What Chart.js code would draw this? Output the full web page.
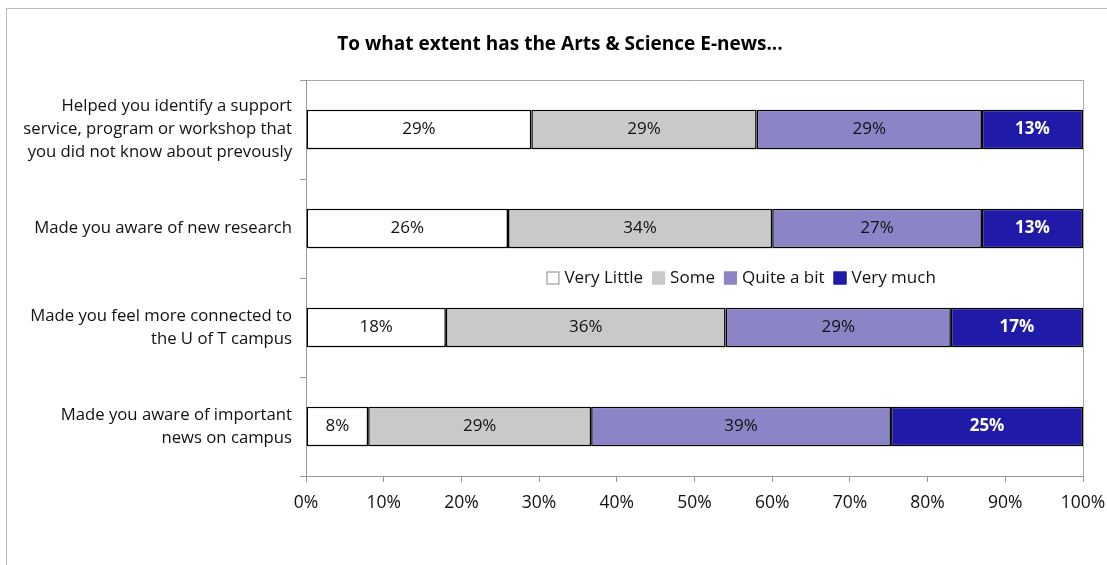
<!DOCTYPE html>
<html>
<head>
<meta charset="utf-8">
<script src="https://cdn.jsdelivr.net/npm/chart.js@4"></script>
<style>
  html, body { margin: 0; padding: 0; background: #fff; }
  #wrap { width: 1107px; height: 565px; }
</style>
</head>
<body>
<div id="wrap"><canvas id="ChartCanvas"></canvas></div>
<script>
// Questions (y categories), one array per answer level
const questions = [
    ['Helped you identify a support', 'service, program or workshop that', 'you did not know about prevously'],
    'Made you aware of new research',
    ['Made you feel more connected to', 'the U of T campus'],
    ['Made you aware of important', 'news on campus']
];
const seriesNames = ['Very Little', 'Some', 'Quite a bit', 'Very much'];
const veryLittle = [29, 26, 18, 8];
const some       = [29, 34, 36, 28.7];
const quiteABit  = [29, 27, 29, 38.6];
const veryMuch   = [13, 13, 17, 24.7];
const xTicks = [0, 10, 20, 30, 40, 50, 60, 70, 80, 90, 100];
const titleText = 'To what extent has the Arts & Science E-news...';

const colors = ['#ffffff', '#c9c9c9', '#8b85c7', '#1f1aa8'];
const labelColors = ['#111', '#111', '#111', '#fff'];
const FONT = '"Open Sans", Lato, sans-serif';

// percent labels in the middle of each segment
const barLabels = {
    id: 'barLabels',
    afterDatasetsDraw(chart)
    {
        const ctx = chart.ctx;
        ctx.save();
        ctx.textAlign = 'center';
        ctx.textBaseline = 'middle';
        chart.data.datasets.forEach((ds, i) =>
        {
            const meta = chart.getDatasetMeta(i);
            ctx.font = (i === 3 ? 'bold ' : '') + '17px ' + FONT;
            ctx.fillStyle = labelColors[i];
            meta.data.forEach((el, j) =>
            {
                ctx.fillText(Math.round(ds.data[j]) + '%', (el.x + el.base) / 2, el.y);
            });
        });
        ctx.restore();
    }
};

// legend sitting between the 2nd and 3rd bars, plus the title
const midLegend = {
    id: 'midLegend',
    afterDraw(chart)
    {
        const ctx = chart.ctx;
        ctx.save();
        ctx.font = '17px ' + FONT;
        const box = 13, gap = 5, space = 9;
        const widths = seriesNames.map(n => box + gap + ctx.measureText(n).width);
        const total = widths.reduce((a, b) => a + b, 0) + space * (seriesNames.length - 1);
        let x = chart.scales.x.getPixelForValue(56) - total / 2;
        const y = chart.scales.y.getPixelForValue(1.5);
        ctx.textBaseline = 'middle';
        seriesNames.forEach((n, i) =>
        {
            ctx.fillStyle = colors[i];
            ctx.fillRect(x, y - box / 2, box, box);
            ctx.strokeStyle = i === 0 ? '#888' : colors[i];
            ctx.lineWidth = 1;
            ctx.strokeRect(x + 0.5, y - box / 2 + 0.5, box - 1, box - 1);
            ctx.fillStyle = '#111';
            ctx.fillText(n, x + box + gap, y);
            x += widths[i] + space;
        });

        ctx.font = 'bold 19px ' + FONT;
        ctx.fillStyle = '#000';
        ctx.textAlign = 'center';
        ctx.fillText(titleText, (chart.width + 13) / 2, 45);
        ctx.restore();
    }
};

// grey frame, plot top border and bar shadows
const frame = {
    id: 'frame',
    beforeDraw(chart)
    {
        const ctx = chart.ctx;
        ctx.save();
        ctx.fillStyle = '#fff';
        ctx.fillRect(0, 0, chart.width, chart.height);
        ctx.strokeStyle = '#bbb';
        ctx.lineWidth = 1;
        ctx.strokeRect(6.5, 8.5, chart.width + 10, chart.height + 10);
        const a = chart.chartArea;
        ctx.strokeStyle = '#aaa';
        ctx.beginPath();
        ctx.moveTo(a.left, Math.round(a.top) + 0.5);
        ctx.lineTo(a.right, Math.round(a.top) + 0.5);
        ctx.stroke();
        ctx.restore();
    },
    beforeDatasetsDraw(chart)
    {
        const ctx = chart.ctx;
        ctx.save();
        ctx.shadowColor = 'rgba(0,0,0,0.28)';
        ctx.shadowOffsetX = 2;
        ctx.shadowOffsetY = 3;
        ctx.shadowBlur = 2;
    },
    afterDatasetsDraw(chart)
    {
        chart.ctx.restore();
    }
};

const values = [veryLittle, some, quiteABit, veryMuch];

new Chart(document.getElementById('ChartCanvas'),
{
    type: 'bar',
    data:
    {
        labels: questions,
        datasets: seriesNames.map((name, i) => ({
            label: name,
            data: values[i],
            backgroundColor: colors[i],
            borderColor: '#000',
            borderWidth: 1.5,
            borderSkipped: false,
            barPercentage: 0.4,
            categoryPercentage: 1
        }))
    },
    options:
    {
        indexAxis: 'y',
        responsive: true,
        maintainAspectRatio: false,
        animation: false,
        layout: { padding: { left: 0, right: 24, top: 80, bottom: 0 } },
        plugins:
        {
            legend: { display: false },
            tooltip: { enabled: false },
            title: { display: false }
        },
        scales:
        {
            x:
            {
                stacked: true,
                min: 0,
                max: 100,
                afterBuildTicks: s => { s.ticks = xTicks.map(v => ({ value: v })); },
                afterFit: s =>
                {
                    s.height = 89;
                    s.paddingLeft = 0;
                    s.paddingRight = 0;
                },
                border: { color: '#999', width: 1 },
                grid:
                {
                    color: c => (c.tick && c.tick.value === 100) ? '#aaa' : 'rgba(0,0,0,0)',
                    tickColor: '#999',
                    tickLength: 6,
                    drawOnChartArea: true
                },
                ticks:
                {
                    color: '#111',
                    padding: 11,
                    font: { family: FONT, size: 17.5 },
                    callback: v => v + '%'
                }
            },
            y:
            {
                stacked: true,
                afterFit: s => { s.width = 306; },
                border: { color: '#999', width: 1 },
                grid:
                {
                    offset: true,
                    drawOnChartArea: false,
                    tickColor: '#999',
                    tickLength: 6
                },
                ticks:
                {
                    color: '#111',
                    padding: 8,
                    font: { family: FONT, size: 16.7, lineHeight: 1.38 }
                }
            }
        }
    },
    plugins: [frame, barLabels, midLegend]
});
</script>
</body>
</html>
